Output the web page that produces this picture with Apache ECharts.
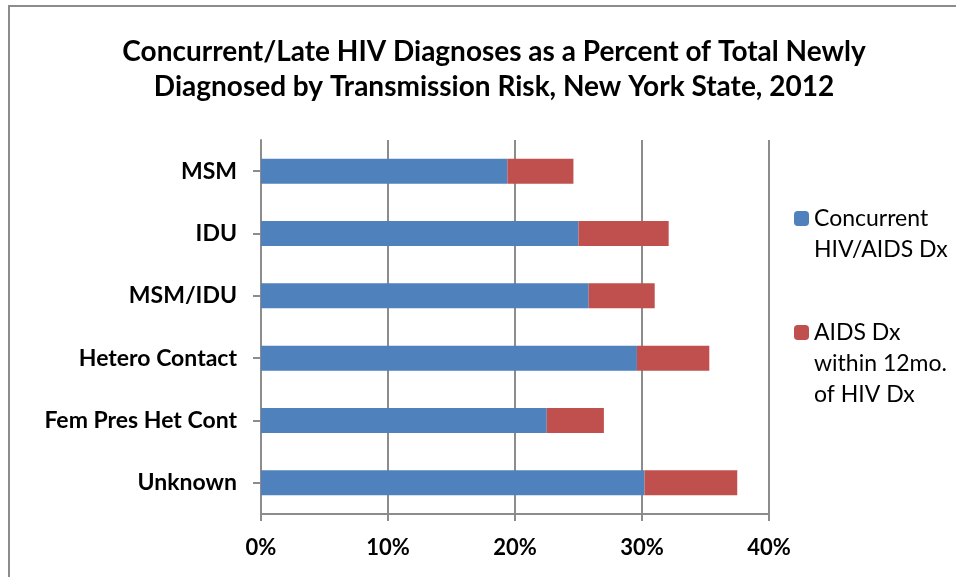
<!DOCTYPE html>
<html>
<head>
<meta charset="utf-8">
<script src="https://cdn.jsdelivr.net/npm/echarts@6/dist/echarts.min.js"></script>
<style>
html,body{margin:0;padding:0;background:#fff;}
#chart{width:956px;height:577px;}
</style>
</head>
<body>
<div id="chart"></div>
<script>
var categories = ['MSM', 'IDU', 'MSM/IDU', 'Hetero Contact', 'Fem Pres Het Cont', 'Unknown'];
var concurrent = [19.4, 25.0, 25.8, 29.6, 22.5, 30.2];
var within12 = [5.2, 7.1, 5.2, 5.7, 4.5, 7.3];
var xTicks = [0, 10, 20, 30, 40];
var seriesNames = ['Concurrent HIV/AIDS Dx', 'AIDS Dx within 12mo. of HIV Dx'];
var legendLabels = {
  'Concurrent HIV/AIDS Dx': '\nConcurrent\nHIV/AIDS Dx',
  'AIDS Dx within 12mo. of HIV Dx': '\n\nAIDS Dx\nwithin 12mo.\nof HIV Dx'
};

var FONT = 'Lato';
var chart = echarts.init(document.getElementById('chart'));
var legendText = {fontFamily: FONT, fontSize: 23, color: '#000', lineHeight: 31};
chart.setOption({
  animation: false,
  backgroundColor: '#fff',
  title: {
    text: 'Concurrent/Late HIV Diagnoses as a Percent of Total Newly\nDiagnosed by Transmission Risk, New York State, 2012',
    left: 489, top: 29, textAlign: 'center',
    textStyle: {fontFamily: FONT, fontSize: 28, fontWeight: 'bold', color: '#000', lineHeight: 35}
  },
  graphic: [{
    type: 'rect', shape: {x: 9, y: 6, width: 1000, height: 700},
    style: {fill: 'none', stroke: '#8c8c8c', lineWidth: 2}, silent: true
  }],
  legend: [{
    data: [seriesNames[0]], orient: 'vertical', left: 794, top: 172, padding: 0,
    itemWidth: 15, itemHeight: 15, itemGap: 5,
    formatter: function (n) { return legendLabels[n]; },
    textStyle: legendText
  }, {
    data: [seriesNames[1]], orient: 'vertical', left: 794, top: 255, padding: 0,
    itemWidth: 15, itemHeight: 15, itemGap: 5,
    formatter: function (n) { return legendLabels[n]; },
    textStyle: legendText
  }],
  grid: {left: 261, right: 187, top: 140, bottom: 63, containLabel: false},
  xAxis: {
    type: 'value', min: xTicks[0], max: xTicks[xTicks.length - 1], interval: 10,
    axisLine: {show: true, lineStyle: {color: '#8c8c8c', width: 2}},
    axisTick: {show: true, length: 7, lineStyle: {color: '#8c8c8c', width: 2}},
    splitLine: {show: true, lineStyle: {color: '#8c8c8c', width: 2}},
    axisLabel: {formatter: '{value}%', margin: 23, fontFamily: FONT, fontSize: 22, fontWeight: 'bold', color: '#000'}
  },
  yAxis: {
    type: 'category', data: categories, inverse: true,
    axisLine: {show: true, lineStyle: {color: '#8c8c8c', width: 2}},
    axisTick: {show: true, alignWithLabel: true, length: 8, lineStyle: {color: '#8c8c8c', width: 2}},
    axisLabel: {margin: 24, fontFamily: FONT, fontSize: 23, fontWeight: 'bold', color: '#000'}
  },
  series: [{
    name: seriesNames[0], type: 'bar', stack: 'a', data: concurrent, barWidth: 25,
    itemStyle: {color: '#4F81BD'}
  }, {
    name: seriesNames[1], type: 'bar', stack: 'a', data: within12, barWidth: 25,
    itemStyle: {color: '#C0504D'}
  }]
});
</script>
</body>
</html>
